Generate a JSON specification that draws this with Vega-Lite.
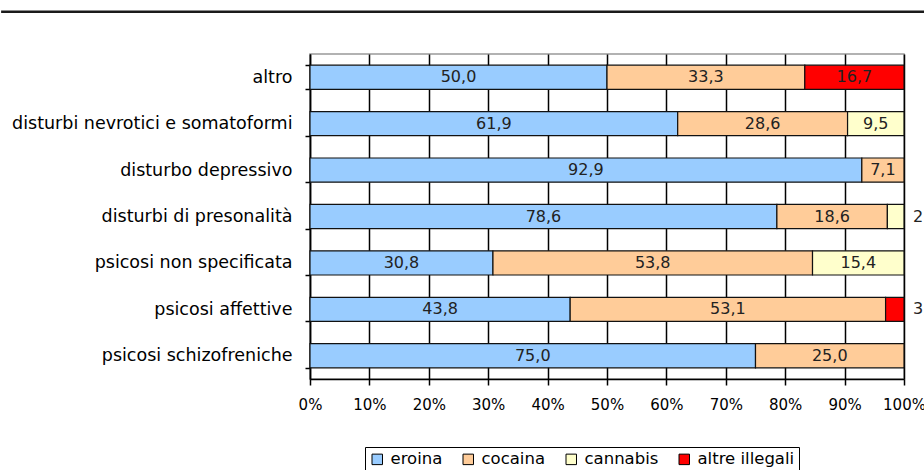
{
  "$schema": "https://vega.github.io/schema/vega-lite/v6.json",
  "width": 594,
  "height": 325,
  "autosize": "none",
  "padding": {"left": 310, "top": 54, "right": 20, "bottom": 91},
  "background": "white",
  "layer": [
    {
      "data": {"values": [
        {"cat": "altro", "tipo": "eroina", "val": 50.0},
        {"cat": "altro", "tipo": "cocaina", "val": 33.3},
        {"cat": "altro", "tipo": "altre illegali", "val": 16.7},
        {"cat": "disturbi nevrotici e somatoformi", "tipo": "eroina", "val": 61.9},
        {"cat": "disturbi nevrotici e somatoformi", "tipo": "cocaina", "val": 28.6},
        {"cat": "disturbi nevrotici e somatoformi", "tipo": "cannabis", "val": 9.5},
        {"cat": "disturbo depressivo", "tipo": "eroina", "val": 92.9},
        {"cat": "disturbo depressivo", "tipo": "cocaina", "val": 7.1},
        {"cat": "disturbi di presonalità", "tipo": "eroina", "val": 78.6},
        {"cat": "disturbi di presonalità", "tipo": "cocaina", "val": 18.6},
        {"cat": "disturbi di presonalità", "tipo": "cannabis", "val": 2.8},
        {"cat": "psicosi non specificata", "tipo": "eroina", "val": 30.8},
        {"cat": "psicosi non specificata", "tipo": "cocaina", "val": 53.8},
        {"cat": "psicosi non specificata", "tipo": "cannabis", "val": 15.4},
        {"cat": "psicosi affettive", "tipo": "eroina", "val": 43.8},
        {"cat": "psicosi affettive", "tipo": "cocaina", "val": 53.1},
        {"cat": "psicosi affettive", "tipo": "altre illegali", "val": 3.1},
        {"cat": "psicosi schizofreniche", "tipo": "eroina", "val": 75.0},
        {"cat": "psicosi schizofreniche", "tipo": "cocaina", "val": 25.0}
      ]},
      "transform": [
        {"stack": "val", "groupby": ["cat"], "sort": [{"field": "tipo", "order": "descending"}], "as": ["v0", "v1"]},
        {"calculate": "(datum.v0 + datum.v1) / 2", "as": "mid"}
      ],
      "encoding": {
        "y": {
          "field": "cat", "type": "nominal", "title": null,
          "sort": ["altro", "disturbi nevrotici e somatoformi", "disturbo depressivo", "disturbi di presonalità", "psicosi non specificata", "psicosi affettive", "psicosi schizofreniche"],
          "scale": {"paddingInner": 0.48, "paddingOuter": 0.24},
          "axis": {"tickBand": "extent", "tickSize": 5, "labelPadding": 13, "labelFontSize": 17.5, "labelColor": "black", "domainColor": "black", "tickColor": "black", "domainWidth": 1.5, "tickWidth": 1.5, "labelLimit": 400}
        }
      },
      "layer": [
        {
          "mark": {"type": "bar", "stroke": "#111", "strokeWidth": 1.2},
          "encoding": {
            "x": {"field": "v0", "type": "quantitative", "title": null,
              "scale": {"domain": [0, 100], "nice": false},
              "axis": {"values": [0, 10, 20, 30, 40, 50, 60, 70, 80, 90, 100], "labelExpr": "datum.value + '%'", "grid": true, "gridColor": "black", "gridWidth": 1.5, "gridOpacity": 1, "domainColor": "black", "domainWidth": 1.5, "tickColor": "black", "tickWidth": 1.5, "tickSize": 6, "labelPadding": 12, "labelFontSize": 15, "labelColor": "black", "labelOverlap": false, "labelBound": false, "labelFlush": false}},
            "x2": {"field": "v1"},
            "color": {"field": "tipo", "type": "nominal",
              "scale": {"domain": ["eroina", "cocaina", "cannabis", "altre illegali"], "range": ["#99CCFF", "#FFCC99", "#FFFFCC", "#FF0000"]},
              "legend": {"orient": "none", "legendX": 55, "legendY": 393, "direction": "horizontal", "title": null, "symbolType": "square", "symbolSize": 110, "symbolStrokeColor": "black", "symbolStrokeWidth": 1, "labelFontSize": 16.5, "labelColor": "black", "strokeColor": "black", "padding": 4, "columnPadding": 17, "labelOffset": 5}}
          }
        },
        {
          "transform": [{"filter": "datum.val >= 5"}],
          "mark": {"type": "text", "fontSize": 16, "color": "#222"},
          "encoding": {
            "x": {"field": "mid", "type": "quantitative"},
            "text": {"field": "val", "type": "quantitative", "format": ".1f"}
          }
        },
        {
          "transform": [{"filter": "datum.val < 5"}],
          "mark": {"type": "text", "fontSize": 16, "color": "#222", "align": "left", "dx": 9},
          "encoding": {
            "x": {"field": "v1", "type": "quantitative"},
            "text": {"field": "val", "type": "quantitative", "format": ".1f"}
          }
        }
      ]
    },
    {
      "data": {"values": [{"y": 1.13, "x": -52, "x2": 103.4}]},
      "mark": {"type": "rule", "color": "#1a1a1a", "strokeWidth": 2.5, "clip": false},
      "encoding": {
        "y": {"field": "y", "type": "quantitative", "scale": {"domain": [0, 1]}, "axis": null},
        "x": {"field": "x", "type": "quantitative"},
        "x2": {"field": "x2"}
      }
    }
  ],
  "resolve": {"scale": {"y": "independent"}, "axis": {"y": "independent"}},
  "config": {
    "font": "DejaVu Sans",
    "view": {"stroke": "#999", "strokeWidth": 1.5},
    "locale": {"number": {"decimal": ",", "thousands": ".", "grouping": [3], "currency": ["", " €"]}}
  }
}
